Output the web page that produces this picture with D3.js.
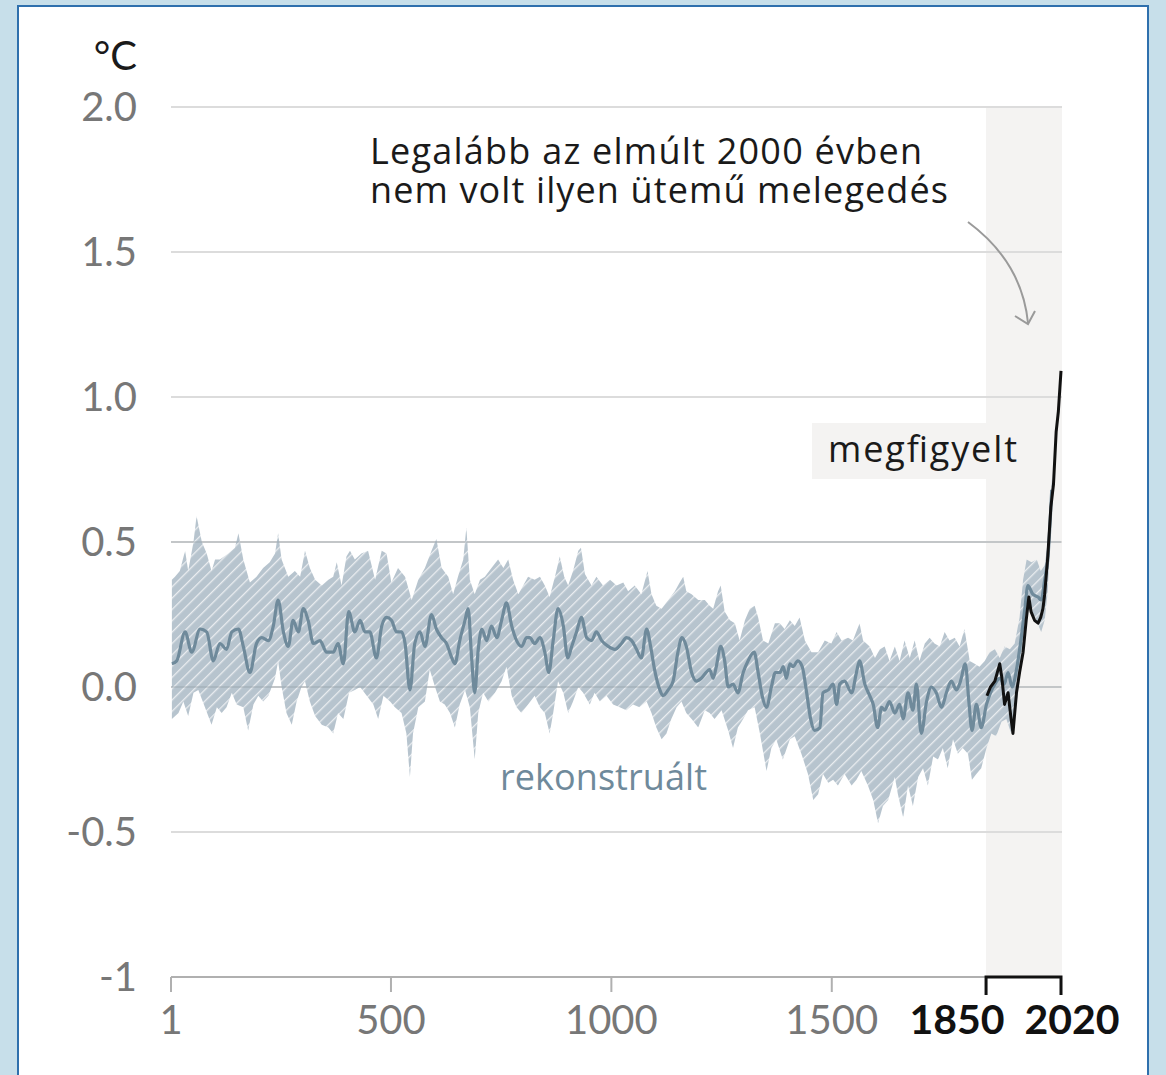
<!DOCTYPE html>
<html>
<head>
<meta charset="utf-8">
<script src="https://cdn.jsdelivr.net/npm/d3@7"></script>
<style>
  html, body { margin: 0; padding: 0; background: #c7dfea; }
  svg { display: block; }
  text { font-family: Lato, "Open Sans", sans-serif; }
  .lbl { font-family: "Open Sans", Lato, sans-serif; font-weight: 500; }
</style>
</head>
<body>
<svg id="chart" width="1166" height="1075"></svg>
<script>
// ---- data ----
const medianYears = [3,14,33,48,67,82,97,112,127,139,154,165,180,195,207,222,233,244,256,267,278,290,301,312,324,339,354,369,380,392,404,418,430,441,452,467,479,490,501,513,524,532,543,554,566,577,592,603,615,626,638,645,656,668,675,683,690,698,706,717,728,740,751,762,774,785,796,808,815,826,838,849,858,868,879,891,901,910,921,932,944,955,966,978,993,1008,1023,1034,1046,1057,1068,1080,1089,1098,1110,1117,1129,1140,1151,1160,1170,1182,1193,1204,1215,1223,1231,1238,1248,1257,1265,1276,1287,1299,1310,1324,1333,1342,1352,1363,1372,1382,1390,1397,1405,1412,1423,1433,1443,1452,1461,1473,1480,1492,1503,1511,1518,1529,1545,1556,1563,1575,1586,1594,1604,1613,1620,1631,1643,1654,1662,1673,1684,1692,1703,1715,1726,1737,1749,1760,1771,1783,1792,1803,1811,1818,1828,1839,1851,1860,1870,1881,1891,1900,1909,1919,1928,1938,1945,1956,1968,1975,1983,1990,1999];
const medianValues = [0.08,0.09,0.19,0.12,0.20,0.19,0.09,0.15,0.13,0.19,0.20,0.14,0.05,0.15,0.17,0.16,0.21,0.30,0.19,0.14,0.23,0.19,0.27,0.23,0.15,0.16,0.12,0.12,0.15,0.08,0.26,0.19,0.23,0.19,0.19,0.10,0.21,0.24,0.23,0.19,0.19,0.15,-0.01,0.15,0.19,0.14,0.25,0.20,0.17,0.15,0.10,0.08,0.16,0.23,0.27,0.10,-0.02,0.13,0.20,0.16,0.21,0.17,0.23,0.29,0.21,0.16,0.14,0.17,0.17,0.15,0.17,0.12,0.05,0.16,0.27,0.21,0.10,0.14,0.19,0.24,0.17,0.16,0.19,0.16,0.14,0.13,0.15,0.17,0.16,0.13,0.10,0.20,0.14,0.06,-0.01,-0.03,-0.01,0.02,0.12,0.17,0.14,0.05,0.02,0.03,0.05,0.06,0.03,0.07,0.14,0.09,0.00,0.01,-0.02,0.05,0.09,0.12,0.05,-0.03,-0.07,0.00,0.05,0.05,0.07,0.03,0.08,0.07,0.09,0.07,-0.02,-0.11,-0.15,-0.14,-0.02,-0.01,0.01,-0.06,0.01,0.02,-0.02,0.05,0.09,0.01,-0.03,-0.06,-0.14,-0.07,-0.08,-0.05,-0.09,-0.06,-0.11,-0.02,-0.08,0.01,-0.16,-0.05,0.00,-0.02,-0.07,-0.02,0.02,-0.01,0.02,0.08,-0.05,-0.15,-0.06,-0.14,-0.06,-0.02,0.01,0.03,0.01,0.05,0.00,0.06,0.15,0.27,0.35,0.32,0.31,0.30,0.37,0.44,0.68];

const upperYears = [3,10,21,33,40,52,59,71,82,93,101,112,131,146,154,165,180,195,210,225,237,244,252,267,282,294,305,316,328,343,358,369,377,388,399,407,418,433,448,464,479,490,501,516,532,547,562,577,592,603,615,630,641,652,664,671,679,690,702,713,728,743,755,766,777,789,800,811,826,838,849,860,872,883,893,902,913,925,931,940,955,966,981,997,1012,1027,1038,1053,1068,1082,1091,1102,1114,1129,1144,1155,1163,1170,1182,1197,1212,1223,1231,1242,1248,1257,1269,1280,1291,1303,1314,1325,1333,1344,1356,1371,1382,1393,1405,1416,1427,1439,1454,1469,1484,1499,1511,1522,1537,1548,1563,1571,1586,1598,1609,1620,1631,1643,1654,1665,1677,1688,1699,1711,1722,1733,1745,1756,1767,1779,1790,1801,1813,1824,1835,1847,1858,1870,1881,1892,1904,1915,1926,1934,1942,1953,1965,1974,1983,1990,1999];
const upperValues = [0.37,0.38,0.40,0.47,0.40,0.50,0.59,0.50,0.46,0.40,0.44,0.44,0.46,0.48,0.53,0.44,0.36,0.38,0.41,0.43,0.46,0.53,0.44,0.38,0.40,0.38,0.47,0.41,0.37,0.35,0.37,0.38,0.43,0.35,0.45,0.47,0.44,0.46,0.47,0.37,0.47,0.46,0.36,0.41,0.38,0.30,0.37,0.41,0.47,0.51,0.41,0.38,0.32,0.38,0.44,0.55,0.37,0.32,0.37,0.38,0.41,0.44,0.41,0.44,0.37,0.32,0.35,0.38,0.37,0.38,0.35,0.31,0.38,0.45,0.38,0.35,0.40,0.47,0.48,0.39,0.35,0.38,0.35,0.37,0.35,0.36,0.33,0.35,0.32,0.40,0.32,0.28,0.27,0.30,0.33,0.36,0.38,0.33,0.32,0.30,0.30,0.28,0.27,0.33,0.35,0.26,0.23,0.22,0.16,0.23,0.27,0.28,0.24,0.16,0.15,0.22,0.22,0.20,0.23,0.21,0.24,0.16,0.12,0.12,0.16,0.15,0.19,0.16,0.17,0.16,0.22,0.16,0.14,0.10,0.13,0.14,0.09,0.14,0.09,0.16,0.10,0.16,0.09,0.15,0.17,0.15,0.14,0.19,0.16,0.17,0.14,0.20,0.09,0.08,0.07,0.09,0.12,0.13,0.10,0.14,0.13,0.15,0.24,0.37,0.44,0.43,0.44,0.40,0.42,0.50,0.72];

const lowerYears = [3,18,29,40,52,63,78,93,105,116,127,139,150,165,176,188,199,210,222,237,244,252,263,275,286,297,305,316,328,343,358,369,380,392,405,418,430,445,460,471,483,498,509,524,535,543,550,562,577,588,600,611,622,634,645,656,668,679,690,698,709,721,736,751,762,774,785,796,811,826,838,849,860,868,879,891,902,913,925,936,951,962,974,989,1004,1019,1034,1049,1064,1080,1091,1102,1114,1125,1136,1148,1159,1170,1182,1197,1212,1223,1234,1250,1265,1276,1287,1299,1310,1325,1337,1352,1363,1374,1389,1405,1416,1431,1446,1458,1469,1480,1492,1503,1514,1529,1545,1556,1567,1582,1594,1605,1616,1628,1643,1650,1662,1673,1684,1696,1707,1718,1730,1741,1752,1763,1775,1786,1797,1809,1818,1828,1839,1851,1862,1873,1885,1896,1907,1919,1926,1934,1941,1953,1964,1975,1983,1990,1999];
const lowerValues = [-0.11,-0.09,-0.05,-0.10,-0.02,-0.01,-0.07,-0.13,-0.07,-0.09,-0.07,-0.02,-0.06,-0.07,-0.15,-0.06,-0.03,-0.05,-0.03,0.03,0.09,0.00,-0.09,-0.13,-0.05,0.00,0.02,-0.05,-0.10,-0.13,-0.14,-0.16,-0.09,-0.11,-0.02,-0.01,0.00,-0.03,-0.06,-0.11,-0.03,-0.05,-0.07,-0.09,-0.16,-0.31,-0.16,-0.07,-0.05,0.06,0.00,-0.05,-0.06,-0.09,-0.14,-0.06,-0.01,-0.07,-0.25,-0.09,-0.02,-0.05,-0.02,0.02,0.07,-0.03,-0.07,-0.09,-0.06,-0.03,-0.07,-0.09,-0.16,-0.09,0.02,-0.02,-0.09,-0.05,0.00,-0.02,-0.06,-0.02,-0.05,-0.03,-0.06,-0.07,-0.08,-0.06,-0.07,-0.05,-0.09,-0.14,-0.18,-0.16,-0.11,-0.07,-0.05,-0.09,-0.11,-0.14,-0.08,-0.09,-0.11,-0.08,-0.15,-0.21,-0.14,-0.11,-0.08,-0.07,-0.16,-0.29,-0.21,-0.18,-0.25,-0.18,-0.17,-0.23,-0.30,-0.39,-0.37,-0.30,-0.33,-0.32,-0.34,-0.30,-0.34,-0.32,-0.29,-0.34,-0.39,-0.47,-0.41,-0.39,-0.31,-0.37,-0.45,-0.34,-0.41,-0.31,-0.28,-0.34,-0.24,-0.25,-0.21,-0.28,-0.18,-0.23,-0.21,-0.23,-0.32,-0.30,-0.28,-0.21,-0.16,-0.17,-0.12,-0.11,-0.16,-0.06,0.03,0.15,0.27,0.26,0.23,0.19,0.23,0.33,0.62];

const observedYears = [1852,1860,1870,1881,1886,1892,1900,1906,1911,1919,1926,1934,1941,1947,1952,1960,1968,1974,1979,1983,1990,1997,2003,2009,2014,2020];
const observedValues = [-0.03,0.00,0.02,0.08,0.03,-0.06,-0.02,-0.10,-0.16,-0.02,0.05,0.12,0.23,0.31,0.26,0.23,0.22,0.24,0.27,0.32,0.45,0.62,0.70,0.88,0.95,1.09];

const yTicks = [-1, -0.5, 0, 0.5, 1.0, 1.5, 2.0];
const yTickLabels = ["-1", "-0.5", "0.0", "0.5", "1.0", "1.5", "2.0"];
const xTicks = [1, 500, 1000, 1500];
const xBoldTicks = [1850, 2020];
const unitLabel = "°C";
const annotationLines = ["Legalább az elmúlt 2000 évben", "nem volt ilyen ütemű melegedés"];
const observedLabel = "megfigyelt";
const reconLabel = "rekonstruált";

// ---- scales ----
const x = d3.scaleLinear().domain([1, 2020]).range([171, 1061]);
const y = d3.scaleLinear().domain([-1, 2]).range([977, 107]);

const svg = d3.select("#chart");

// frame
svg.append("rect").attr("x", 0).attr("y", 0).attr("width", 1166).attr("height", 1075).attr("fill", "#c7dfea");
svg.append("rect").attr("x", 18).attr("y", 6).attr("width", 1130).attr("height", 1080)
  .attr("fill", "#ffffff").attr("stroke", "#2f70ad").attr("stroke-width", 2);

// pattern
const defs = svg.append("defs");
const pat = defs.append("pattern").attr("id", "hatch").attr("patternUnits", "userSpaceOnUse")
  .attr("width", 8).attr("height", 8).attr("patternTransform", "rotate(45)");
pat.append("rect").attr("width", 8).attr("height", 8).attr("fill", "#b7c4ce");
pat.append("line").attr("x1", 0).attr("y1", 0).attr("x2", 0).attr("y2", 8)
  .attr("stroke", "#ffffff").attr("stroke-width", 2.6).attr("stroke-opacity", 0.7);

// shaded recent period
svg.append("rect")
  .attr("x", x(1850)).attr("y", y(2))
  .attr("width", x(2020) - x(1850) + 1).attr("height", y(-1) - y(2))
  .attr("fill", "#f4f3f2");

// gridlines
svg.append("g").selectAll("line").data(yTicks.filter(d => d > -1)).join("line")
  .attr("x1", x(1)).attr("x2", x(2020) + 1)
  .attr("y1", d => y(d)).attr("y2", d => y(d))
  .attr("stroke", "#dcdcdc").attr("stroke-width", 2);

// observed label box
svg.append("rect").attr("x", 812).attr("y", 423).attr("width", 218).attr("height", 56).attr("fill", "#f4f3f2");
svg.append("text").attr("class", "lbl").attr("x", 828).attr("y", 462).attr("font-size", 36)
  .attr("textLength", 189).attr("lengthAdjust", "spacing")
  .attr("fill", "#1a1a1a").text(observedLabel);

// band
const bandPts = upperYears.map((yr, i) => [yr, upperValues[i]])
  .concat(lowerYears.map((yr, i) => [yr, lowerValues[i]]).reverse());
const bandLine = d3.line().x(d => x(d[0])).y(d => y(d[1]));
svg.append("path").attr("d", bandLine(bandPts) + "Z").attr("fill", "url(#hatch)");

// gridlines faint on top of band
svg.append("g").selectAll("line").data([0, 0.5]).join("line")
  .attr("x1", x(1)).attr("x2", x(2020))
  .attr("y1", d => y(d)).attr("y2", d => y(d))
  .attr("stroke", "#8a949b").attr("stroke-opacity", 0.3).attr("stroke-width", 2);

// median line
const lineGen = d3.line().x(d => x(d[0])).y(d => y(d[1])).curve(d3.curveMonotoneX);
svg.append("path").attr("d", lineGen(medianYears.map((yr, i) => [yr, medianValues[i]])))
  .attr("fill", "none").attr("stroke", "#6f8a9b").attr("stroke-width", 3.2).attr("stroke-linejoin", "round");

// observed line
svg.append("path").attr("d", d3.line().x(d => x(d[0])).y(d => y(d[1]))(observedYears.map((yr, i) => [yr, observedValues[i]])))
  .attr("fill", "none").attr("stroke", "#111111").attr("stroke-width", 3).attr("stroke-linejoin", "round");

// y tick labels
svg.append("g").selectAll("text").data(yTicks).join("text")
  .attr("x", 137).attr("y", d => y(d) + 14)
  .attr("text-anchor", "end").attr("font-size", 40).attr("fill", "#777777")
  .text((d, i) => yTickLabels[i]);
svg.append("text").attr("x", 137).attr("y", 70).attr("text-anchor", "end")
  .attr("font-size", 40).attr("fill", "#1a1a1a").text(unitLabel);

// x axis
svg.append("line").attr("x1", x(1)).attr("x2", x(2020)).attr("y1", y(-1)).attr("y2", y(-1))
  .attr("stroke", "#b0b0b0").attr("stroke-width", 2);
svg.append("g").selectAll("line").data(xTicks).join("line")
  .attr("x1", d => x(d)).attr("x2", d => x(d)).attr("y1", y(-1)).attr("y2", y(-1) + 15)
  .attr("stroke", "#b0b0b0").attr("stroke-width", 2);
svg.append("g").selectAll("text").data(xTicks).join("text")
  .attr("x", d => x(d)).attr("y", 1034).attr("text-anchor", "middle")
  .attr("font-size", 40).attr("fill", "#777777").text(d => d);

// bracket
svg.append("path")
  .attr("d", `M${x(1850)},${y(-1) + 18}V${y(-1)}H${x(2020)}V${y(-1) + 18}`)
  .attr("fill", "none").attr("stroke", "#111111").attr("stroke-width", 3);
svg.append("g").selectAll("text").data(xBoldTicks).join("text")
  .attr("x", (d, i) => i === 0 ? x(d) - 29 : x(d) + 11).attr("y", 1034).attr("text-anchor", "middle")
  .attr("font-size", 41).attr("font-weight", 700).attr("fill", "#111111").text(d => d);

// annotation (one text block, two lines)
const annoWidths = [552, 578];
const anno = svg.append("text").attr("class", "lbl").attr("font-size", 36).attr("fill", "#1a1a1a");
anno.selectAll("tspan").data(annotationLines).join("tspan")
  .attr("x", 370).attr("y", (d, i) => 164 + i * 39)
  .attr("textLength", (d, i) => annoWidths[i]).attr("lengthAdjust", "spacing")
  .text(d => d);

// arrow
svg.append("path").attr("d", "M968,222 Q1022,262 1028,323")
  .attr("fill", "none").attr("stroke", "#9a9a9a").attr("stroke-width", 2);
svg.append("path").attr("d", "M1015,316 L1028,324 L1035,311")
  .attr("fill", "none").attr("stroke", "#9a9a9a").attr("stroke-width", 2);

// reconstructed label
svg.append("text").attr("class", "lbl").attr("x", 500).attr("y", 790).attr("font-size", 36)
  .attr("textLength", 207).attr("lengthAdjust", "spacing")
  .attr("fill", "#6f8a9b").text(reconLabel);
</script>
</body>
</html>
